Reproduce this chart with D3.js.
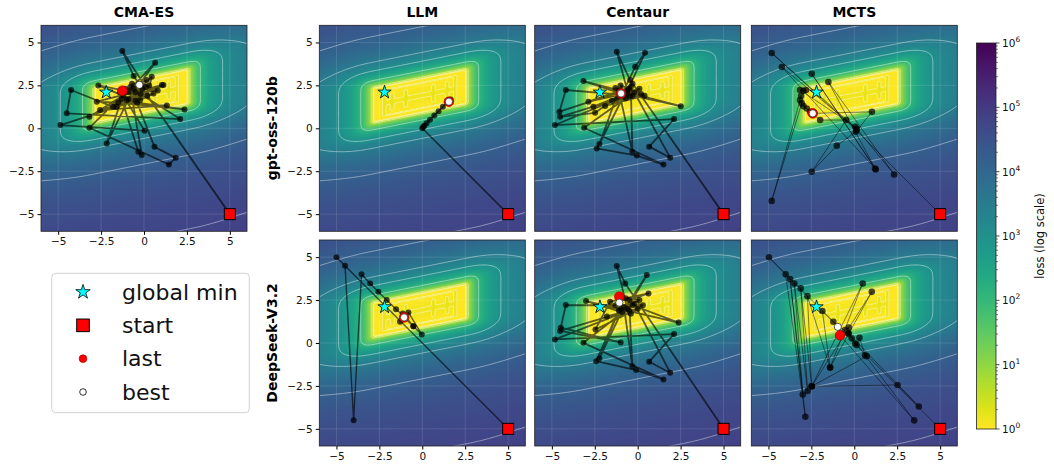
<html>
<head>
<meta charset="utf-8" />
<script src="https://cdnjs.cloudflare.com/ajax/libs/d3/7.8.5/d3.min.js"></script>
<style>
  body { margin: 0; background: #fff; }
  svg { font-family: "DejaVu Sans", sans-serif; }
</style>
</head>
<body>
<svg width="1054" height="473"></svg>
<script>
// ---- data ----
const axisTicks = [-5, -2.5, 0, 2.5, 5];
const axisTickLabels = ["\u22125", "\u22122.5", "0", "2.5", "5"];
const cbDecades = [0, 1, 2, 3, 4, 5, 6];
const lossLevels = [0.12, 0.3, 0.7, 2.0, 3.0, 3.5, 4.2, 4.78];
const globalMin = [-2.2, 2.1];
const startPt = [5, -5];
const methods = ["CMA-ES", "LLM", "Centaur", "MCTS"];
const models = ["gpt-oss-120b", "DeepSeek-V3.2"];
const legendLabels = ["global min", "start", "last", "best"];

const cmaesPath = [[5,-5],[-0.6,3.04],[-1.26,4.5],[0.1,2.4],[-0.9,1.7],[0.65,3.82],[-1.8,1.25],[-4.25,2.23],
  [-4.5,0.87],[2.11,0.54],[-0.2,2.0],[-2.66,2.5],[-0.5,1.6],[-4.87,0.19],[0.03,-0.14],[-1.2,1.9],[-3.18,0.67],
  [-0.6,2.3],[-2.17,-0.88],[-1.3,1.7],[-0.33,-1.37],[-0.13,-1.56],[-0.8,2.4],[-3.18,0.03],[1.45,-2.11],
  [1.85,-1.72],[0.61,-1.08],[-0.4,1.5],[2.36,1.1],[-1.5,1.5],[1.04,2.52],[-2.75,1.55],[1.33,1.33],[-2.56,1.06],
  [0.2,1.9],[0.45,3.0],[-1.0,1.64],[1.13,2.52],[-1.6,1.25],[0.55,2.03],[-0.23,1.64],[0.16,2.81],[-1.4,2.1],
  [-0.1,2.3],[-0.7,2.6],[0.3,2.5],[-1.1,2.3],[-0.5,2.1],[0.8,2.2],[-0.3,2.6],[-0.9,2.1],[-0.27,2.53],[-1.26,2.19]];
const cmaesLast = [-1.26, 2.19];
const cmaesBest = [-0.27, 2.53];

const llmGptPath = [[5,-5],[0,0],[0.05,0.08],[0.12,0.15],[0.25,0.3],[0.45,0.5],[0.7,0.75],[0.95,1.0],
  [1.2,1.25],[1.45,1.5],[1.66,1.68],[1.55,1.55]];
const llmGptLast = [1.55, 1.55];
const llmGptBest = [1.55, 1.55];

const centaurGptPath = [[5,-5],[-0.44,2.81],[-1.22,4.46],[-0.6,2.2],[0.43,4.4],[-0.15,3.58],[-0.9,2.0],
  [-3.16,2.75],[2.51,1.29],[-0.3,1.9],[-4.19,2.23],[-4.56,0.97],[-0.5,2.3],[-2.48,0.9],[-4.52,0.67],[-1.2,1.7],
  [-4.82,0.19],[2.12,0.54],[0.67,-1.07],[1.89,-1.71],[-0.2,2.1],[-3.12,0.03],[1.5,-2.11],[-0.05,-1.59],
  [-2.39,-1.17],[-0.8,1.9],[-2.23,-0.92],[-1.1,2.2],[-0.31,-1.36],[-0.4,2.4],[-2.87,1.55],[-0.6,2.05],
  [-2.58,1.26],[0.1,2.3],[-1.5,1.6],[-0.3,2.6],[-1.9,1.3],[0.4,1.9],[-1.0,2.5],[-0.7,1.75],[0.2,2.0],
  [-1.3,2.35],[-0.45,1.85],[-0.97,2.03]];
const centaurGptLast = [-0.97, 2.03];
const centaurGptBest = [-0.97, 2.03];

const mctsGptPath = [[5,-5],[0.12,-0.12],[-4.81,4.39],[0.15,-0.05],[-4.22,3.57],[1.21,-2.34],[-2.48,3.18],
  [1.25,-2.4],[-1.51,2.7],[2.32,-2.69],[0.05,0.09],[-3.16,2.23],[-2.96,2.19],[-2.81,2.23],[-3.1,1.9],
  [-3.16,1.64],[-4.81,-4.23],[-3.06,1.45],[-2.96,1.29],[-2.77,1.15],[-2.58,0.96],[-1.99,0.48],[-0.47,0.48],
  [-2.48,-2.53],[-1.02,-1.02],[0.09,-0.2],[1.03,0.96],[-2.42,0.87]];
const mctsGptLast = [-2.42, 0.87];
const mctsGptBest = [-2.42, 0.87];

const llmDsPath = [[5,-5],[-5,5],[-4.5,4.5],[-4.0,-4.5],[-3.54,4.0],[-3.04,3.47],[-2.56,2.98],[-2.07,2.5],
  [-1.53,1.97],[-1.0,1.5],[-0.52,0.98],[-0.03,0.5],[-0.81,1.78],[-1.3,1.24],[-1.14,1.72],[-0.52,0.98],[-1.06,1.49]];
const llmDsLast = [-1.06, 1.49];
const llmDsBest = [-1.06, 1.49];

const centaurDsPath = [[5,-5],[-0.73,3.47],[-1.22,4.48],[-0.6,2.0],[0.53,3.96],[-0.9,1.8],[-3.01,2.44],
  [2.38,1.19],[-0.3,2.2],[-4.19,2.21],[-4.48,0.89],[-0.99,0.03],[-4.52,0.7],[-0.5,1.9],[-4.82,0.21],[2.12,0.52],
  [0.67,-1.09],[1.89,-1.73],[-0.2,2.3],[-3.16,0.01],[1.5,-2.12],[-0.09,-1.58],[-2.42,-1.06],[-1.1,1.9],
  [-2.23,-0.9],[-0.8,2.1],[-0.31,-1.35],[-0.5,2.5],[0.63,2.89],[-1.61,2.41],[-2.46,0.79],[0.0,2.0],
  [-1.8,1.55],[-0.4,1.7],[0.3,2.2],[-1.3,2.2],[-0.7,2.6],[0.1,2.5],[-1.0,2.0],[-1.07,2.7]];
const centaurDsLast = [-1.07, 2.7];
const centaurDsBest = [-1.07, 2.35];

const mctsDsPath = [[5,-5],[-4.97,4.99],[-4.0,4.0],[-2.85,-4.3],[-3.74,3.72],[-3.0,-3.0],[-3.49,3.47],
  [-2.72,-2.79],[-3.12,3.18],[-2.48,-2.52],[-2.73,2.73],[-1.41,-1.43],[0.49,3.47],[-2.48,-2.52],[1.02,2.98],
  [-1.41,-1.43],[-1.86,1.86],[-1.22,1.24],[-0.96,0.94],[-0.54,0.75],[-0.32,0.9],[-0.34,0.56],[-0.15,0.27],
  [0.05,-0.03],[0.14,-0.12],[0.3,0.3],[0.63,-0.71],[0.73,-0.77],[-2.48,-2.52],[2.52,-2.45],[3.76,-3.7],
  [-0.34,0.56],[3.49,-4.51],[-0.83,0.45]];
const mctsDsLast = [-0.83, 0.45];
const mctsDsBest = [-0.96, 0.94];

// ---- landscape (log10 loss) ----
function logLoss(x, y) {
  const v = y - 1.92 - 0.2 * x;
  const du = Math.max(0, Math.abs(x + 0.15) - 2.65);
  const dv = Math.max(0, Math.abs(v) - 0.95);
  const lu = 4.3 * du / (du + 0.9);
  const lv = 5.3 * dv / (dv + 0.8);
  let f = Math.pow(10, lu) + Math.pow(10, lv) - 1;
  if (du === 0 && dv === 0) {
    const ax = Math.abs(x + 0.15);
    const bars = Math.pow(Math.cos(Math.PI * (x + 0.15) / 0.8), 10) * (Math.abs(v) < 0.5 ? 1 : 0) * (ax > 0.6 && ax < 2.0 ? 1 : 0);
    const ring = Math.exp(-Math.pow((Math.max(ax / 2.65, Math.abs(v) / 0.95) - 0.78) / 0.05, 2));
    const tint = 0.35 * Math.exp(-Math.pow(v / 0.45, 2)) * (ax < 2.1 ? 1 : 0);
    f += Math.max(0.7 * bars, 0.55 * ring, tint);
  }
  return Math.log10(f);
}

const svg = d3.select("svg");
const size = 206;
const ext = 6.6, N = 200;
const values = new Float64Array(N * N);
for (let j = 0; j < N; j++) {
  for (let i = 0; i < N; i++) {
    const x = -ext + (i + 0.5) * 2 * ext / N;
    const y = ext - (j + 0.5) * 2 * ext / N;
    values[j * N + i] = logLoss(x, y);
  }
}
const colorOf = (L) => d3.interpolateViridis(1 - Math.max(0, Math.min(6, L)) / 6);
const canvas = document.createElement("canvas");
canvas.width = N; canvas.height = N;
const ctx = canvas.getContext("2d");
const img = ctx.createImageData(N, N);
for (let k = 0; k < N * N; k++) {
  const c = d3.rgb(colorOf(values[k]));
  img.data[4 * k] = c.r; img.data[4 * k + 1] = c.g; img.data[4 * k + 2] = c.b; img.data[4 * k + 3] = 255;
}
ctx.putImageData(img, 0, 0);
const heatUrl = canvas.toDataURL();
const contourSet = d3.contours().size([N, N]).thresholds(lossLevels)(Array.from(values));

const panels = [
  { left: 41, top: 25.3, path: cmaesPath, last: cmaesLast, best: cmaesBest, title: methods[0], yLab: true, xLab: true, lw: 1.8 },
  { left: 319.3, top: 25.3, path: llmGptPath, last: llmGptLast, best: llmGptBest, title: methods[1], row: models[0], yLab: true, lw: 1.6 },
  { left: 534.7, top: 25.3, path: centaurGptPath, last: centaurGptLast, best: centaurGptBest, title: methods[2], lw: 1.8 },
  { left: 751.3, top: 25.3, path: mctsGptPath, last: mctsGptLast, best: mctsGptBest, title: methods[3], lw: 0.8 },
  { left: 319.3, top: 240, path: llmDsPath, last: llmDsLast, best: llmDsBest, row: models[1], yLab: true, xLab: true, lw: 1.4 },
  { left: 534.7, top: 240, path: centaurDsPath, last: centaurDsLast, best: centaurDsBest, xLab: true, lw: 1.8 },
  { left: 751.3, top: 240, path: mctsDsPath, last: mctsDsLast, best: mctsDsBest, xLab: true, lw: 0.8 },
];

const defs = svg.append("defs");

panels.forEach((p, idx) => {
  const x = d3.scaleLinear().domain([-6, 6]).range([p.left, p.left + size]);
  const y = d3.scaleLinear().domain([-6, 6]).range([p.top + size, p.top]);
  defs.append("clipPath").attr("id", "clip" + idx)
    .append("rect").attr("x", p.left).attr("y", p.top).attr("width", size).attr("height", size);
  const g = svg.append("g").attr("clip-path", `url(#clip${idx})`);
  g.append("image").attr("href", heatUrl)
    .attr("x", x(-ext)).attr("y", y(ext))
    .attr("width", x(ext) - x(-ext)).attr("height", y(-ext) - y(ext))
    .attr("preserveAspectRatio", "none");
  const proj = d3.geoTransform({
    point: function (gx, gy) {
      this.stream.point(x(-ext + gx * 2 * ext / N), y(ext - gy * 2 * ext / N));
    }
  });
  g.selectAll("path.contour").data(contourSet).join("path")
    .attr("class", "contour")
    .attr("d", d3.geoPath(proj))
    .attr("fill", "none").attr("stroke", "#fff").attr("stroke-opacity", 0.55).attr("stroke-width", 0.8);
  // grid
  g.selectAll("line.gx").data(axisTicks).join("line")
    .attr("x1", (d) => x(d)).attr("x2", (d) => x(d)).attr("y1", p.top).attr("y2", p.top + size)
    .attr("stroke", "#fff").attr("stroke-opacity", 0.15).attr("stroke-width", 0.8);
  g.selectAll("line.gy").data(axisTicks).join("line")
    .attr("y1", (d) => y(d)).attr("y2", (d) => y(d)).attr("x1", p.left).attr("x2", p.left + size)
    .attr("stroke", "#fff").attr("stroke-opacity", 0.15).attr("stroke-width", 0.8);
  // trajectory
  const line = d3.line().x((d) => x(d[0])).y((d) => y(d[1]));
  g.append("path").attr("d", line(p.path)).attr("fill", "none")
    .attr("stroke", "#000").attr("stroke-opacity", 0.6).attr("stroke-width", p.lw).attr("stroke-linejoin", "round");
  g.selectAll("circle.pt").data(p.path.slice(1)).join("circle")
    .attr("cx", (d) => x(d[0])).attr("cy", (d) => y(d[1])).attr("r", p.lw < 1 ? 3.3 : 3)
    .attr("fill", "#000").attr("fill-opacity", 0.7);
  g.append("path").attr("d", d3.symbol(d3.symbolStar, 55)())
    .attr("transform", `translate(${x(globalMin[0])},${y(globalMin[1])})`)
    .attr("fill", "cyan").attr("stroke", "#000").attr("stroke-width", 0.8);
  g.append("rect").attr("x", x(startPt[0]) - 5.5).attr("y", y(startPt[1]) - 5.5)
    .attr("width", 11).attr("height", 11).attr("fill", "red").attr("stroke", "#000").attr("stroke-width", 1);
  g.append("circle").attr("cx", x(p.last[0])).attr("cy", y(p.last[1])).attr("r", 4.8)
    .attr("fill", "red").attr("stroke", "#b00000").attr("stroke-width", 0.8);
  g.append("circle").attr("cx", x(p.best[0])).attr("cy", y(p.best[1])).attr("r", 3.6)
    .attr("fill", "#fff").attr("stroke", "#000").attr("stroke-width", 0.6);

  svg.append("rect").attr("x", p.left).attr("y", p.top).attr("width", size).attr("height", size)
    .attr("fill", "none").attr("stroke", "#222").attr("stroke-width", 0.8);

  if (p.yLab) {
    const ay = d3.axisLeft(y).tickValues(axisTicks).tickFormat((d, i) => axisTickLabels[i]).tickSize(3.5).tickPadding(3);
    const ga = svg.append("g").attr("transform", `translate(${p.left},0)`).call(ay);
    ga.select(".domain").remove();
    ga.selectAll("text").attr("font-size", 10.5).attr("fill", "#111").attr("font-family", "DejaVu Sans");
  }
  if (p.xLab) {
    const ax = d3.axisBottom(x).tickValues(axisTicks).tickFormat((d, i) => axisTickLabels[i]).tickSize(3.5).tickPadding(3);
    const ga = svg.append("g").attr("transform", `translate(0,${p.top + size})`).call(ax);
    ga.select(".domain").remove();
    ga.selectAll("text").attr("font-size", 10.5).attr("fill", "#111").attr("font-family", "DejaVu Sans");
  }
  if (p.title) {
    svg.append("text").attr("x", p.left + size / 2).attr("y", 17).attr("text-anchor", "middle")
      .attr("font-size", 14).attr("font-weight", "bold").text(p.title);
  }
  if (p.row) {
    svg.append("text").attr("transform", `translate(277,${p.top + size / 2}) rotate(-90)`)
      .attr("text-anchor", "middle").attr("font-size", 14).attr("font-weight", "bold").text(p.row);
  }
});

// ---- legend ----
const lg = svg.append("g");
lg.append("rect").attr("x", 51.7).attr("y", 273.3).attr("width", 197.6).attr("height", 139.4).attr("rx", 4)
  .attr("fill", "#fff").attr("stroke", "#d0d0d0").attr("stroke-width", 1);
const legY = d3.scalePoint().domain(legendLabels).range([292, 392]);
lg.append("path").attr("d", d3.symbol(d3.symbolStar, 65)())
  .attr("transform", `translate(83,${legY("global min")})`).attr("fill", "cyan").attr("stroke", "#000").attr("stroke-width", 0.8);
lg.append("rect").attr("x", 83 - 6.3).attr("y", legY("start") - 6.3).attr("width", 12.6).attr("height", 12.6)
  .attr("fill", "red").attr("stroke", "#000").attr("stroke-width", 1);
lg.append("circle").attr("cx", 83).attr("cy", legY("last")).attr("r", 3.8).attr("fill", "red").attr("stroke", "#b00000").attr("stroke-width", 0.8);
lg.append("circle").attr("cx", 83).attr("cy", legY("best")).attr("r", 3.3).attr("fill", "#fff").attr("stroke", "#000").attr("stroke-width", 0.8);
lg.selectAll("text").data(legendLabels).join("text")
  .attr("x", 122).attr("y", (d) => legY(d) + 7.5).attr("font-size", 22).attr("fill", "#111").text((d) => d);

// ---- colorbar ----
const cbX = 976.5, cbW = 19.5;
const cbY = d3.scaleLinear().domain([0, 6]).range([429, 43]);
const grad = defs.append("linearGradient").attr("id", "cbgrad").attr("x1", 0).attr("y1", 1).attr("x2", 0).attr("y2", 0);
d3.range(0, 1.0001, 0.05).forEach((t) => {
  grad.append("stop").attr("offset", t).attr("stop-color", colorOf(6 * t));
});
svg.append("rect").attr("x", cbX).attr("y", cbY(6)).attr("width", cbW).attr("height", cbY(0) - cbY(6))
  .attr("fill", "url(#cbgrad)").attr("stroke", "#222").attr("stroke-width", 0.8);
const minor = [];
cbDecades.slice(0, -1).forEach((d) => { for (let k = 2; k <= 9; k++) minor.push(d + Math.log10(k)); });
svg.selectAll("line.cbminor").data(minor).join("line")
  .attr("x1", cbX + cbW).attr("x2", cbX + cbW + 2).attr("y1", (d) => cbY(d)).attr("y2", (d) => cbY(d))
  .attr("stroke", "#222").attr("stroke-width", 0.6);
svg.selectAll("line.cbmajor").data(cbDecades).join("line")
  .attr("x1", cbX + cbW).attr("x2", cbX + cbW + 3.5).attr("y1", (d) => cbY(d)).attr("y2", (d) => cbY(d))
  .attr("stroke", "#222").attr("stroke-width", 0.8);
const cbt = svg.selectAll("text.cbt").data(cbDecades).join("text")
  .attr("x", cbX + cbW + 6).attr("y", (d) => cbY(d) + 4).attr("font-size", 10.5).attr("fill", "#111");
cbt.append("tspan").text("10");
cbt.append("tspan").attr("dy", -5).attr("font-size", 7.5).text((d) => d);
svg.append("text").attr("transform", `translate(1044,${cbY(3)}) rotate(-90)`)
  .attr("text-anchor", "middle").attr("font-size", 11.5).attr("fill", "#111").text("loss (log scale)");
</script>
</body>
</html>
